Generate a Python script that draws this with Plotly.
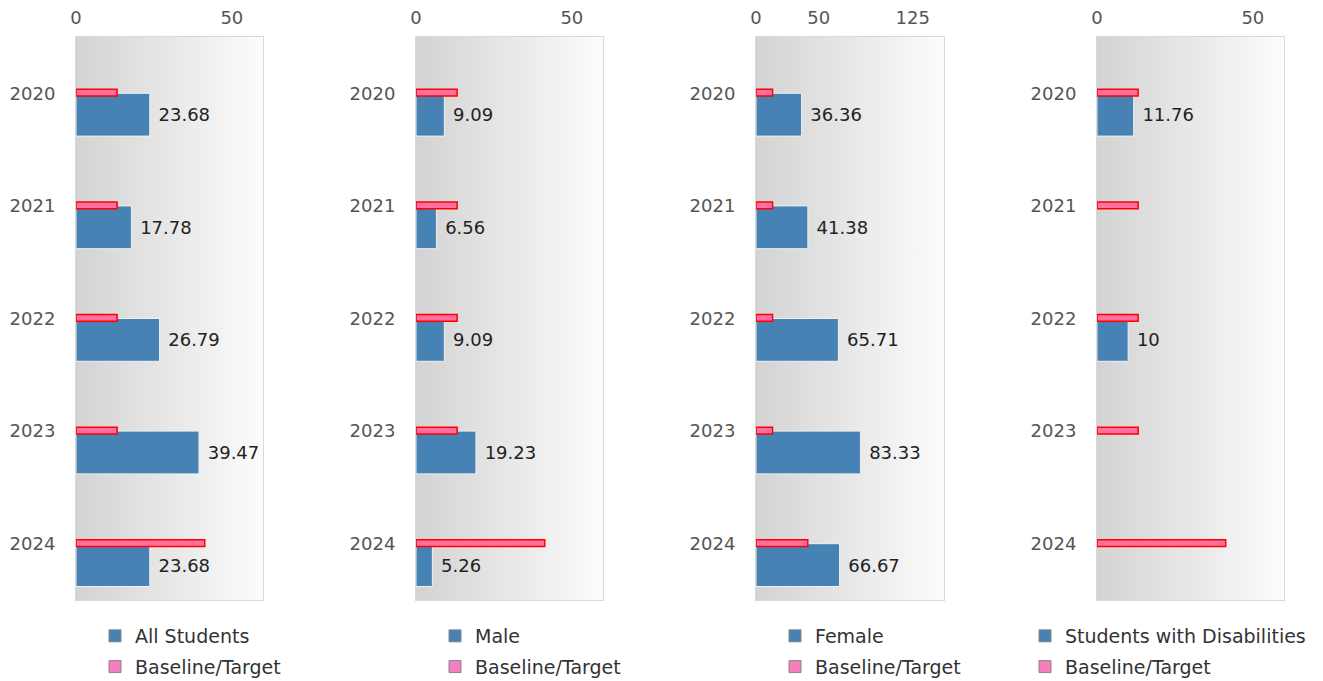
import base64
import plotly.graph_objects as go

# ---------------- data ----------------
years = ["2020", "2021", "2022", "2023", "2024"]
all_students = [23.68, 17.78, 26.79, 39.47, 23.68]
male = [9.09, 6.56, 9.09, 19.23, 5.26]
female = [36.36, 41.38, 65.71, 83.33, 66.67]
swd = [11.76, None, 10, None, None]
baseline_target = [13.2, 13.2, 13.2, 13.2, 41.3]

panel_names = ["All Students", "Male", "Female", "Students with Disabilities"]
panel_values = [all_students, male, female, swd]
x_ranges = [[0, 60], [0, 60], [0, 150], [0, 60]]
x_tickvals = [[0, 50], [0, 50], [0, 50, 125], [0, 50]]
target_name = "Baseline/Target"

# ---------------- style ----------------
W, H = 1323, 681
FONT = "DejaVu Sans"
BLUE = "#4682B4"
PINK = "#ff6fa0"
PINK_LEG = "#f57fbe"
panel_px = [(76, 263), (416, 603), (756, 944), (1097, 1284)]
legend_text_px = [135, 475, 815, 1065]
y_top_px, y_bot_px = 37, 600
legend_top_px = 617

svg = ('<svg xmlns="http://www.w3.org/2000/svg" width="100" height="100" viewBox="0 0 100 100" '
       'preserveAspectRatio="none"><defs><linearGradient id="g" x1="0" x2="1" y1="0" y2="0">'
       '<stop offset="0" stop-color="#d3d3d3"/><stop offset="1" stop-color="#fcfcfc"/>'
       '</linearGradient></defs><rect width="100" height="100" fill="url(#g)"/></svg>')
grad_src = "data:image/svg+xml;base64," + base64.b64encode(svg.encode()).decode()


def fmt(v):
    return "" if v is None else f"{v:g}"


fig = go.Figure()
layout = dict(
    width=W, height=H,
    margin=dict(l=0, r=0, t=0, b=0, autoexpand=False),
    paper_bgcolor="white",
    plot_bgcolor="rgba(0,0,0,0)",
    barmode="overlay",
    font=dict(family=FONT, size=18, color="#444"),
    images=[],
)

for i, (name, vals) in enumerate(zip(panel_names, panel_values)):
    k = "" if i == 0 else str(i + 1)
    xa, ya = "x" + k, "y" + k
    leg = "legend" + k
    fig.add_trace(go.Bar(
        y=years, x=vals, orientation="h", xaxis=xa, yaxis=ya,
        width=0.38, offset=0,
        marker=dict(color=BLUE, line=dict(color="#f0f0f0", width=1)),
        text=[fmt(v) for v in vals], texttemplate="\u00a0%{text}",
        textposition="outside", cliponaxis=False,
        textfont=dict(family=FONT, size=18, color="#222"),
        showlegend=False, hoverinfo="x+y",
    ))
    fig.add_trace(go.Bar(
        y=years, x=baseline_target, orientation="h", xaxis=xa, yaxis=ya,
        width=0.06, offset=-0.035,
        marker=dict(color=PINK, line=dict(color="#ff0000", width=1.5)),
        showlegend=False, hoverinfo="x+y",
    ))
    # legend entries
    fig.add_trace(go.Bar(
        y=[None], x=[None], orientation="h", xaxis=xa, yaxis=ya, name=name,
        marker=dict(color=BLUE, line=dict(color="#888", width=1)),
        legend=leg, legendgroup=f"a{i}", showlegend=True,
    ))
    fig.add_trace(go.Bar(
        y=[None], x=[None], orientation="h", xaxis=xa, yaxis=ya, name=target_name,
        marker=dict(color=PINK_LEG, line=dict(color="#888", width=1)),
        legend=leg, legendgroup=f"b{i}", showlegend=True,
    ))

    x0, x1 = panel_px[i]
    layout["xaxis" + k] = dict(
        domain=[x0 / W, x1 / W], anchor=ya, side="top", range=x_ranges[i],
        tickvals=x_tickvals[i], showgrid=False, zeroline=False,
        showline=True, linecolor="#d9d9d9", linewidth=1, mirror=True,
        ticks="", ticklabelstandoff=5,
        tickfont=dict(family=FONT, size=18, color="#555"),
        fixedrange=True,
    )
    layout["yaxis" + k] = dict(
        domain=[1 - y_bot_px / H, 1 - y_top_px / H], anchor=xa,
        type="category", categoryarray=years, range=[4.5, -0.5],
        showgrid=False, zeroline=False,
        showline=True, linecolor="#d9d9d9", linewidth=1, mirror=True,
        ticks="", ticklabelstandoff=16,
        tickfont=dict(family=FONT, size=18, color="#555"),
        fixedrange=True,
    )
    layout[leg] = dict(
        x=(legend_text_px[i] - 40) / W, xanchor="left",
        y=1 - legend_top_px / H, yanchor="top",
        bgcolor="rgba(0,0,0,0)", borderwidth=0,
        font=dict(family=FONT, size=19, color="#333"),
        tracegroupgap=3, traceorder="grouped",
    )
    layout["images"].append(dict(
        source=grad_src, xref=xa + " domain", yref=ya + " domain",
        x=0, y=1, sizex=1, sizey=1, xanchor="left", yanchor="top",
        sizing="stretch", layer="below",
    ))

fig.update_layout(**layout)
fig.write_html("out.html", config={"displayModeBar": False},
               post_script="document.body.style.margin='0px';")
